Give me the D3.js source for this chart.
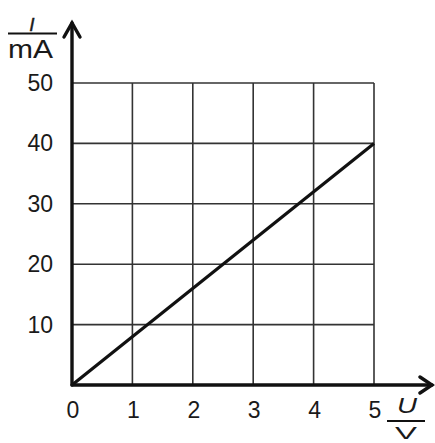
<!DOCTYPE html>
<html><head><meta charset="utf-8">
<script src="https://cdn.jsdelivr.net/npm/d3@7"></script>
<style>body{margin:0;background:#fff}svg{display:block}text{font-family:"Liberation Sans",Arial,sans-serif;fill:#1a1a1a}</style>
</head><body>
<script>
const xTicks = [0, 1, 2, 3, 4, 5];
const yTicks = [10, 20, 30, 40, 50];
const lineU = [0, 5];
const lineI = [0, 40];

const W = 435, H = 443;
const svg = d3.select("body").append("svg").attr("width", W).attr("height", H);
const x = d3.scaleLinear().domain([0, 5]).range([72, 374]);
const y = d3.scaleLinear().domain([0, 50]).range([385, 83]);

const grid = svg.append("g").attr("stroke", "#333").attr("stroke-width", 1.6);
grid.selectAll(".v").data(xTicks.slice(1)).join("line")
  .attr("x1", d => x(d)).attr("x2", d => x(d)).attr("y1", y(0)).attr("y2", y(50));
grid.selectAll(".h").data(yTicks).join("line")
  .attr("x1", x(0)).attr("x2", x(5)).attr("y1", d => y(d)).attr("y2", d => y(d));

// data line
svg.append("path")
  .datum(lineU.map((u, i) => [u, lineI[i]]))
  .attr("d", d3.line().x(d => x(d[0])).y(d => y(d[1])))
  .attr("stroke", "#111").attr("stroke-width", 3.2).attr("fill", "none");

// axes
const ax = svg.append("g").attr("stroke", "#111").attr("stroke-width", 3.4).attr("fill", "none").attr("stroke-linecap", "round");
ax.append("line").attr("x1", x(0)).attr("x2", 432).attr("y1", y(0)).attr("y2", y(0));
ax.append("line").attr("x1", x(0)).attr("x2", x(0)).attr("y1", y(0)).attr("y2", 23);
ax.append("path").attr("d", `M${x(0)-8},37 L${x(0)},23 L${x(0)+8},37`);
ax.append("path").attr("d", `M420,${y(0)-8} L432,${y(0)} L420,${y(0)+8}`);

// tick labels
svg.selectAll(".xl").data(xTicks).join("text")
  .attr("x", d => x(d) + 1).attr("y", 418).attr("text-anchor", "middle")
  .attr("font-size", 23).text(d => d);
svg.selectAll(".yl").data(yTicks).join("text")
  .attr("x", 53).attr("y", d => y(d) + 8).attr("text-anchor", "end")
  .attr("font-size", 23).text(d => d);

// axis titles
svg.append("text").attr("x", 32).attr("y", 31).attr("text-anchor", "middle").attr("font-size", 19).attr("font-style", "italic")
  .attr("stroke", "#1a1a1a").attr("stroke-width", 0.4).text("I");
svg.append("line").attr("x1", 8).attr("x2", 57).attr("y1", 33.5).attr("y2", 33.5).attr("stroke", "#111").attr("stroke-width", 2.2);
svg.append("text").attr("x", 8).attr("y", 58).attr("font-size", 25)
  .attr("textLength", 45).attr("lengthAdjust", "spacingAndGlyphs").text("mA");

svg.append("text").attr("x", 397).attr("y", 413).attr("font-size", 22).attr("font-style", "italic")
  .attr("textLength", 20).attr("lengthAdjust", "spacingAndGlyphs").text("U");
svg.append("line").attr("x1", 387).attr("x2", 425).attr("y1", 421).attr("y2", 421).attr("stroke", "#111").attr("stroke-width", 2.2);
svg.append("text").attr("x", 395).attr("y", 439).attr("font-size", 17)
  .attr("textLength", 22).attr("lengthAdjust", "spacingAndGlyphs").text("V");
</script>
</body></html>
